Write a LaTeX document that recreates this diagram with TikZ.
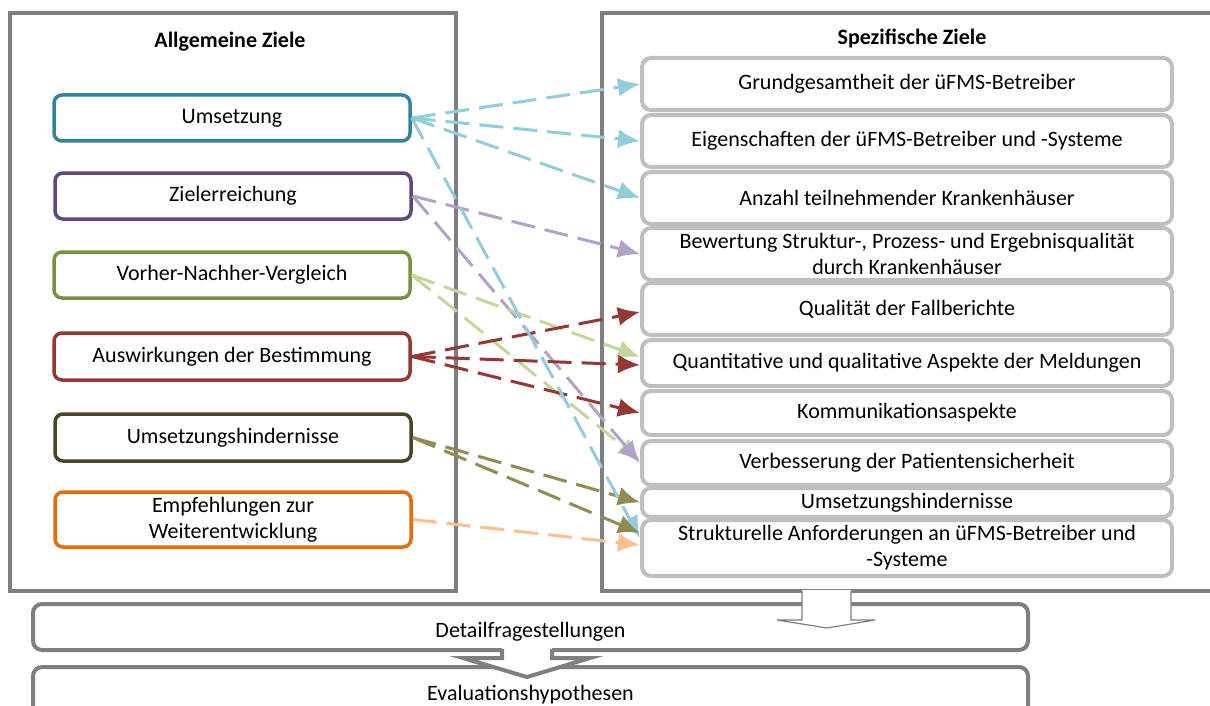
\documentclass[tikz,border=0pt]{standalone}
\usepackage{fontspec}
\setmainfont{Carlito}
\usetikzlibrary{arrows.meta}
\definecolor{pgray}{HTML}{7F7F7F}
\definecolor{rgray}{HTML}{BFBFBF}
\definecolor{cteal}{HTML}{31849B}
\definecolor{cpurple}{HTML}{5F497A}
\definecolor{cgreen}{HTML}{77933C}
\definecolor{cred}{HTML}{953735}
\definecolor{colive}{HTML}{4A452A}
\definecolor{corange}{HTML}{E46C0A}
\definecolor{lblue}{HTML}{92CDDC}
\definecolor{lpurple}{HTML}{B3A2C7}
\definecolor{lgreen}{HTML}{C3D69B}
\definecolor{lolive}{HTML}{948A54}
\definecolor{lorange}{HTML}{FAC090}
\begin{document}
\begin{tikzpicture}[x=1pt,y=-1pt,
  txt/.style={font=\fontsize{22}{26}\selectfont, align=center, text=black},
  ttl/.style={font=\fontsize{22}{26}\selectfont\bfseries, text=black},
  panel/.style={draw=pgray, line width=3.5pt},
  lbox/.style={txt, draw=#1, line width=3.5pt, rounded corners=8pt, minimum width=356pt, minimum height=46pt, fill=white, inner sep=0pt},
  rbox/.style={txt, draw=rgray, line width=4pt, rounded corners=9pt, minimum width=530pt, minimum height=#1, inner sep=0pt, fill=white},
  bbox/.style={txt, draw=pgray, line width=4pt, rounded corners=9pt, minimum width=995pt, minimum height=#1, inner sep=0pt},
  conn/.style={draw=#1, line width=3pt, dash pattern=on 24pt off 10pt, -{Latex[length=22pt,width=19pt]}},
  bafill/.style={fill=white, draw=none},
  baline/.style={draw=pgray, line join=miter}
]
\useasboundingbox (0,0) rectangle (1210,706);
\clip (0,0) rectangle (1210,706);
\fill[white] (0,0) rectangle (1210,706);

% panels
\draw[panel] (10,13) rectangle (456,591);
\draw[panel] (602,13) rectangle (1230,591);
\node[ttl] (tl) at (230,42) {Allgemeine Ziele};
\node[ttl] (tr) at (912,38) {Spezifische Ziele};

% left boxes
\node[lbox=cteal] (L1) at (232,118) {Umsetzung};
\node[lbox=cpurple] (L2) at (233,196) {Zielerreichung};
\node[lbox=cgreen] (L3) at (232,275) {Vorher-Nachher-Vergleich};
\node[lbox=cred, minimum height=47pt] (L4) at (232,356.5) {Auswirkungen der Bestimmung};
\node[lbox=colive, minimum height=47pt] (L5) at (233,437.5) {Umsetzungshindernisse};
\node[lbox=corange, minimum height=55pt] (L6) at (233,519.5) {Empfehlungen zur\\Weiterentwicklung};

% right boxes
\node[rbox=52pt] (R1) at (907,84) {Grundgesamtheit der üFMS-Betreiber};
\node[rbox=52pt] (R2) at (907,141) {Eigenschaften der üFMS-Betreiber und -Systeme};
\node[rbox=52pt] (R3) at (907,198) {Anzahl teilnehmender Krankenhäuser};
\node[rbox=52pt] (R4) at (907,254) {Bewertung Struktur-, Prozess- und Ergebnisqualität\\durch Krankenhäuser};
\node[rbox=52pt] (R5) at (907,309) {Qualität der Fallberichte};
\node[rbox=46pt] (R6) at (907,363) {Quantitative und qualitative Aspekte der Meldungen};
\node[rbox=44pt] (R7) at (907,413) {Kommunikationsaspekte};
\node[rbox=44pt] (R8) at (907,463) {Verbesserung der Patientensicherheit};
\node[rbox=29pt] (R9) at (907,502.5) {Umsetzungshindernisse};
\node[rbox=56pt] (R10) at (907,548) {Strukturelle Anforderungen an üFMS-Betreiber und\\-Systeme};

% bottom boxes
\node[bbox=46pt] (D) at (530.5,627) {\raisebox{-5pt}[\height][\depth]{Detailfragestellungen}};
\node[bbox=56pt] (E) at (530.5,695) {Evaluationshypothesen};

% block arrows
\fill[bafill] (802,590) -- (851,590) -- (851,620) -- (875,620) -- (827,628) -- (777,620) -- (802,620) -- cycle;
\draw[baline, line width=1.2pt] (802,591) -- (802,620) -- (777,620) -- (827,628) -- (875,620) -- (851,620) -- (851,591);
\fill[bafill] (502,647) -- (552,647) -- (552,658) -- (590,658) -- (527,677) -- (463,658) -- (502,658) -- cycle;
\draw[baline, line width=4pt] (502,649) -- (502,658) -- (463,658) -- (527,677) -- (590,658) -- (552,658) -- (552,649);

% connectors
\draw[conn=lblue] (L1.east) -- (R1.west);
\draw[conn=lblue] (L1.east) -- (R2.west);
\draw[conn=lblue] (L1.east) -- (R3.west);
\draw[conn=lpurple] (L2.east) -- (R4.west);
\draw[conn=lgreen] (L3.east) -- ([yshift=3pt]R8.west);
\draw[conn=lpurple] (L2.east) -- (R8.west);
\draw[conn=lgreen] (L3.east) -- ([yshift=6pt]R6.west);
\draw[conn=cred] (L4.east) -- ([yshift=-3pt]R5.west);
\draw[conn=cred] (L4.east) -- ([yshift=-2pt]R6.west);
\draw[conn=cred] (L4.east) -- (R7.west);
\draw[conn=lolive] (L5.east) -- (R9.west);
\draw[conn=lblue] (L1.east) -- ([yshift=10pt]R10.west);
\draw[conn=lolive] (L5.east) -- ([yshift=15pt]R10.west);
\draw[conn=lorange] (L6.east) -- ([yshift=3pt]R10.west);
\end{tikzpicture}
\end{document}
